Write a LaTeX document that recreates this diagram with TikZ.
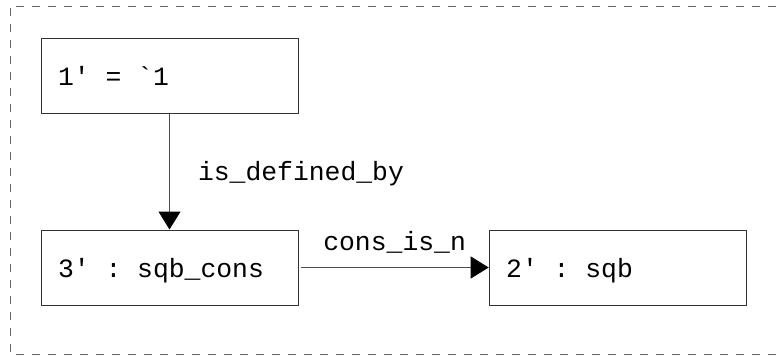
\documentclass[tikz,border=0pt]{standalone}
\usepackage{fontspec}
\newfontfamily\monofnt{Liberation Mono}
\newcommand\msp{\hspace*{0.6em}}
\usetikzlibrary{arrows.meta}
\begin{document}
\begin{tikzpicture}[x=1pt,y=-1pt,
  every node/.style={font=\monofnt\fontsize{26.4}{30}\selectfont},
  objbox/.style={draw=black!80, line width=1pt, minimum width=257pt, minimum height=75pt,
    text width=223pt, inner xsep=17pt, inner ysep=0pt, text height=20pt, text depth=0pt, align=left},
  link/.style={draw=black!70, line width=1pt, -{Triangle[length=18pt,width=22pt,color=black]}},
  lbl/.style={inner sep=0pt, text=black},
  frame/.style={draw=black!60, line width=1pt, dash pattern=on 8pt off 8pt}]
\useasboundingbox (0,0) rectangle (776,356);
\draw[frame] (776,6) -- (10,6) -- (10,354) -- (776,354);
\node[objbox] (a) at (169.5,75.5) {1\symbol{"2032}\msp=\msp\symbol{96}1};
\node[objbox] (c) at (169.5,267.5) {3\symbol{"2032}\msp:\msp sqb\_cons};
\node[objbox] (b) at (617.7,267.5) {2\symbol{"2032}\msp:\msp sqb};
\draw[link] (a.south) -- node[lbl, anchor=base west, xshift=28pt, yshift=-9pt] (l1) {is\_defined\_by} (c.north);
\draw[link] ([xshift=2pt]c.east) -- node[lbl, anchor=base, yshift=17pt] (l2) {cons\_is\_n} (b.west);
\end{tikzpicture}
\end{document}
